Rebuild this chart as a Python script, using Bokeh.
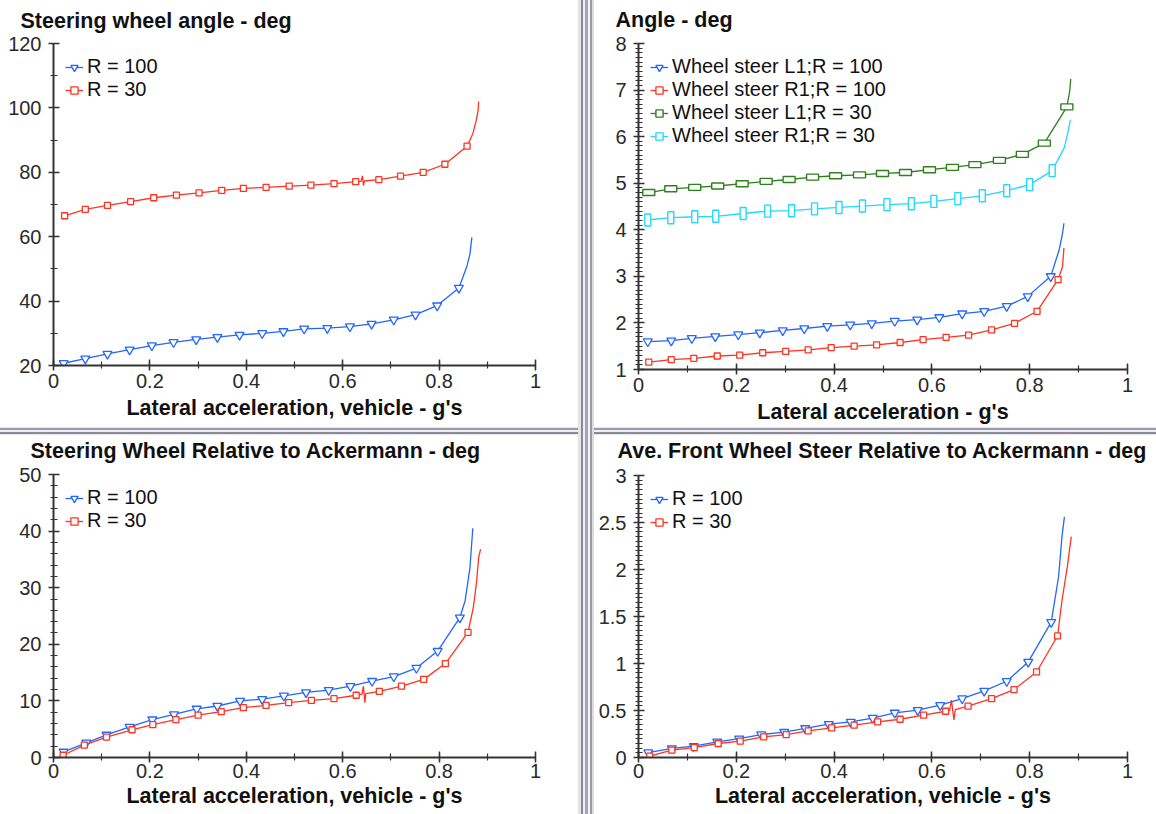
from bokeh.plotting import figure
from bokeh.layouts import row, column
from bokeh.models import (Div, FixedTicker, Legend, LegendItem, ColumnDataSource, Range1d,
                          Title)
from bokeh.embed import file_html
from bokeh.resources import INLINE
import numpy as np

# ---------------- data ----------------
x_ticks = [0, 0.2, 0.4, 0.6, 0.8, 1.0]
x_tick_labels = ["0", "0.2", "0.4", "0.6", "0.8", "1"]

# Panel 1: Steering wheel angle
p1_title = "Steering wheel angle - deg"
p1_xlabel = "Lateral acceleration, vehicle - g's"
p1_yticks = [20, 40, 60, 80, 100, 120]
p1_ytick_labels = ["20", "40", "60", "80", "100", "120"]
p1_r100_x = [0.021, 0.066, 0.112, 0.158, 0.204, 0.249, 0.296, 0.340, 0.386, 0.433, 0.477,
             0.520, 0.568, 0.615, 0.660, 0.706, 0.751, 0.796, 0.841]
p1_r100_y = [20.7, 22.1, 23.6, 24.9, 26.2, 27.2, 28.1, 28.8, 29.5, 30.0, 30.6,
             31.4, 31.6, 32.1, 32.9, 34.2, 35.8, 38.6, 44.1]
p1_r100_tail_x = [0.857, 0.864, 0.868]
p1_r100_tail_y = [50.5, 54.6, 59.8]
p1_r30_x = [0.023, 0.066, 0.112, 0.160, 0.208, 0.255, 0.302, 0.349, 0.394, 0.441, 0.489,
            0.534, 0.582, 0.627, 0.675, 0.720, 0.767, 0.812, 0.858]
p1_r30_y = [66.5, 68.5, 69.7, 70.9, 72.1, 72.9, 73.6, 74.4, 75.0, 75.3, 75.7,
            76.0, 76.5, 77.1, 77.7, 78.8, 80.0, 82.5, 88.1]
p1_r30_tail_x = [0.870, 0.877, 0.881, 0.882]
p1_r30_tail_y = [92.0, 96.1, 99.2, 102.0]
p1_r30_glitch_x = [0.638, 0.641, 0.643, 0.645]
p1_r30_glitch_y = [77.2, 78.9, 75.9, 77.3]

# Panel 2: Angle
p2_title = "Angle - deg"
p2_xlabel = "Lateral acceleration - g's"
p2_yticks = [1, 2, 3, 4, 5, 6, 7, 8]
p2_ytick_labels = ["1", "2", "3", "4", "5", "6", "7", "8"]
p2_l1r100_x = [0.019, 0.067, 0.109, 0.157, 0.204, 0.248, 0.295, 0.339, 0.386, 0.433, 0.477,
               0.524, 0.570, 0.615, 0.662, 0.707, 0.753, 0.796, 0.843]
p2_l1r100_y = [1.60, 1.62, 1.67, 1.71, 1.75, 1.79, 1.84, 1.88, 1.93, 1.96, 1.99,
               2.04, 2.07, 2.12, 2.20, 2.25, 2.36, 2.57, 3.00]
p2_l1r100_tail_x = [0.860, 0.867, 0.870]
p2_l1r100_tail_y = [3.56, 3.91, 4.14]
p2_r1r100_x = [0.021, 0.067, 0.113, 0.161, 0.207, 0.254, 0.301, 0.347, 0.394, 0.441, 0.487,
               0.535, 0.582, 0.629, 0.675, 0.722, 0.769, 0.815, 0.858]
p2_r1r100_y = [1.16, 1.21, 1.24, 1.29, 1.31, 1.36, 1.39, 1.42, 1.47, 1.50, 1.53,
               1.58, 1.64, 1.69, 1.74, 1.85, 1.99, 2.25, 2.93]
p2_r1r100_tail_x = [0.867, 0.870]
p2_r1r100_tail_y = [3.20, 3.61]
p2_l1r30_x = [0.021, 0.066, 0.115, 0.162, 0.212, 0.261, 0.308, 0.356, 0.403, 0.452, 0.499,
              0.546, 0.595, 0.642, 0.688, 0.738, 0.785, 0.830, 0.876]
p2_l1r30_y = [4.80, 4.88, 4.91, 4.94, 4.99, 5.04, 5.08, 5.13, 5.16, 5.18, 5.21,
              5.23, 5.29, 5.34, 5.40, 5.49, 5.62, 5.86, 6.64]
p2_l1r30_tail_x = [0.882, 0.884]
p2_l1r30_tail_y = [6.99, 7.24]
p2_r1r30_x = [0.019, 0.066, 0.115, 0.158, 0.214, 0.264, 0.313, 0.360, 0.410, 0.458,
              0.508, 0.558, 0.604, 0.653, 0.703, 0.753, 0.800, 0.846]
p2_r1r30_y = [4.21, 4.26, 4.28, 4.29, 4.35, 4.40, 4.41, 4.45, 4.48, 4.51,
              4.54, 4.56, 4.61, 4.67, 4.73, 4.84, 4.97, 5.27]
p2_r1r30_tail_x = [0.871, 0.879, 0.883]
p2_r1r30_tail_y = [5.77, 6.13, 6.36]

# Panel 3: Steering Wheel Relative to Ackermann
p3_title = "Steering Wheel Relative to Ackermann - deg"
p3_xlabel = "Lateral acceleration, vehicle - g's"
p3_yticks = [0, 10, 20, 30, 40, 50]
p3_ytick_labels = ["0", "10", "20", "30", "40", "50"]
p3_r100_x = [0.021, 0.068, 0.110, 0.158, 0.205, 0.250, 0.297, 0.340, 0.387, 0.433, 0.478,
             0.524, 0.571, 0.616, 0.661, 0.706, 0.753, 0.797, 0.843]
p3_r100_y = [1.0, 2.6, 4.0, 5.4, 6.7, 7.6, 8.6, 9.1, 10.0, 10.3, 10.9,
             11.5, 11.9, 12.6, 13.5, 14.3, 15.8, 18.8, 24.7]
p3_r100_tail_x = [0.854, 0.864, 0.867, 0.870]
p3_r100_tail_y = [27.7, 33.5, 37.1, 40.5]
p3_r30_x = [0.020, 0.064, 0.110, 0.163, 0.206, 0.254, 0.300, 0.348, 0.394, 0.441, 0.488,
            0.535, 0.582, 0.628, 0.676, 0.722, 0.768, 0.813, 0.860]
p3_r30_y = [0.4, 2.2, 3.6, 4.9, 5.8, 6.7, 7.5, 8.1, 8.8, 9.2, 9.7,
            10.1, 10.4, 11.0, 11.7, 12.6, 13.8, 16.6, 22.1]
p3_r30_tail_x = [0.871, 0.878, 0.882, 0.886]
p3_r30_tail_y = [26.5, 31.2, 35.3, 36.8]
p3_r30_glitch_x = [0.640, 0.643, 0.646, 0.648]
p3_r30_glitch_y = [11.2, 12.6, 9.7, 11.3]

# Panel 4: Ave. Front Wheel Steer Relative to Ackermann
p4_title = "Ave. Front Wheel Steer Relative to Ackermann - deg"
p4_xlabel = "Lateral acceleration, vehicle - g's"
p4_yticks = [0, 0.5, 1, 1.5, 2, 2.5, 3]
p4_ytick_labels = ["0", "0.5", "1", "1.5", "2", "2.5", "3"]
p4_r100_x = [0.020, 0.068, 0.113, 0.161, 0.206, 0.251, 0.298, 0.341, 0.389, 0.434, 0.479,
             0.524, 0.571, 0.617, 0.662, 0.707, 0.753, 0.797, 0.844]
p4_r100_y = [0.053, 0.096, 0.12, 0.167, 0.20, 0.244, 0.27, 0.31, 0.354, 0.379, 0.42,
             0.475, 0.503, 0.556, 0.627, 0.708, 0.811, 1.017, 1.44]
p4_r100_tail_x = [0.859, 0.866, 0.871]
p4_r100_tail_y = [1.92, 2.35, 2.56]
p4_r30_x = [0.023, 0.068, 0.114, 0.163, 0.208, 0.256, 0.302, 0.347, 0.395, 0.441, 0.489,
            0.535, 0.583, 0.628, 0.674, 0.722, 0.768, 0.814, 0.857]
p4_r30_y = [0.014, 0.078, 0.106, 0.149, 0.174, 0.22, 0.244, 0.283, 0.315, 0.344, 0.379,
            0.407, 0.45, 0.492, 0.546, 0.627, 0.723, 0.91, 1.293]
p4_r30_tail_x = [0.866, 0.877, 0.885]
p4_r30_tail_y = [1.67, 2.03, 2.35]
p4_r30_glitch_x = [0.636, 0.640, 0.645, 0.648]
p4_r30_glitch_y = [0.50, 0.61, 0.40, 0.51]

legend_r100 = "R = 100"
legend_r30 = "R = 30"
p2_legend = ["Wheel steer L1;R = 100", "Wheel steer R1;R = 100",
             "Wheel steer L1;R = 30", "Wheel steer R1;R = 30"]

# ---------------- style ----------------
FONT = "Liberation Sans"
BLUE = "#2266ff"
RED = "#ff3322"
GREEN = "#2f7f1f"
CYAN = "#22d8ff"
AX = "#333333"


def make_fig(w, h, yr, left, right, top, bottom, title, title_offset, title_gap,
             xlabel, yticks, ylabels, yminor_step, xstand, lstand):
    p = figure(width=w, height=h, x_range=Range1d(0, 1), y_range=Range1d(*yr),
               output_backend="svg", toolbar_location=None,
               min_border_left=left, min_border_right=right,
               min_border_top=top, min_border_bottom=bottom)
    p.outline_line_color = None
    p.grid.visible = False
    p.background_fill_color = "white"
    p.border_fill_color = "white"
    p.title.text = title
    p.title.align = "left"
    p.title.vertical_align = "bottom"
    p.title.offset = title_offset
    p.title.standoff = 0
    p.title.text_font = FONT
    p.title.text_font_size = "21.5px"
    p.title.text_font_style = "bold"
    p.title.text_color = "#111111"
    # blank spacer panel between the frame and the title
    p.add_layout(Title(text=" ", text_font_size="1px", standoff=title_gap), "above")

    xminor = list(np.round(np.arange(0, 1.0001, 0.1), 4))
    p.xaxis.ticker = FixedTicker(ticks=x_ticks, minor_ticks=xminor)
    p.xaxis.major_label_overrides = dict(zip(x_ticks, x_tick_labels))
    y0, y1 = yr
    yminor = list(np.round(np.arange(y0, y1 + yminor_step / 2, yminor_step), 4))
    p.yaxis.ticker = FixedTicker(ticks=yticks, minor_ticks=yminor)
    p.yaxis.major_label_overrides = dict(zip(yticks, ylabels))
    p.xaxis.axis_label = xlabel
    p.xaxis.axis_label_text_font = FONT
    p.xaxis.axis_label_text_font_size = "21.5px"
    p.xaxis.axis_label_text_font_style = "bold"
    p.xaxis.axis_label_text_color = "#111111"
    p.xaxis.axis_label_standoff = lstand
    for ax in (p.xaxis, p.yaxis):
        ax.axis_line_color = AX
        ax.axis_line_width = 2
        ax.major_tick_line_color = AX
        ax.minor_tick_line_color = AX
        ax.major_tick_line_width = 1.5
        ax.minor_tick_line_width = 1.2
        ax.major_tick_in = 6
        ax.major_tick_out = 5
        ax.minor_tick_in = 4
        ax.minor_tick_out = 3
        ax.major_label_text_font = FONT
        ax.major_label_text_font_size = "20px"
        ax.major_label_text_color = "#2a2a2a"
    p.xaxis.major_label_standoff = xstand
    p.yaxis.major_label_standoff = 7
    return p


def add_series(p, mx, my, tx, ty, color, marker=None, size=8, rect=None, gx=(), gy=()):
    pts = sorted(zip(list(mx) + list(tx) + list(gx), list(my) + list(ty) + list(gy)),
                 key=lambda t: t[0])
    lx = [t[0] for t in pts]
    ly = [t[1] for t in pts]
    lr = p.line(lx, ly, line_color=color, line_width=1.3)
    src = ColumnDataSource(dict(x=mx, y=my))
    if rect is None:
        mr = p.scatter("x", "y", source=src, marker=marker, size=size,
                       fill_color="white", line_color=color, line_width=1.3)
        return [lr, mr]
    rw, rh = rect
    p.rect("x", "y", source=src, width=rw, height=rh, width_units="screen",
           height_units="screen", fill_color="white", line_color=color, line_width=1.4)
    # hidden marker renderer, used only for the legend swatch
    lg = p.scatter("x", "y", source=src, marker="square", size=7, fill_color="white",
                   line_color=color, line_width=1.4, visible=False)
    return [lr, lg]


def add_legend(p, items):
    leg = Legend(items=[LegendItem(label=l, renderers=r) for l, r in items],
                 location="top_left")
    leg.border_line_color = None
    leg.background_fill_alpha = 0
    leg.label_text_font = FONT
    leg.label_text_font_size = "20px"
    leg.label_text_color = "#111111"
    leg.glyph_width = 18
    leg.glyph_height = 20
    leg.label_height = 20
    leg.spacing = 0
    leg.padding = 10
    leg.margin = 12
    leg.label_standoff = 4
    p.add_layout(leg)


# Panel 1
p1 = make_fig(578, 427, (20, 120), 53, 42, 43, 62, p1_title, -33, 8, p1_xlabel,
              p1_yticks, p1_ytick_labels, 10, 3, 5)
a = add_series(p1, p1_r100_x, p1_r100_y, p1_r100_tail_x, p1_r100_tail_y, BLUE,
               "inverted_triangle", 9)
b = add_series(p1, p1_r30_x, p1_r30_y, p1_r30_tail_x, p1_r30_tail_y, RED, "square", 6,
               gx=p1_r30_glitch_x, gy=p1_r30_glitch_y)
add_legend(p1, [(legend_r100, a), (legend_r30, b)])

# Panel 2
p2 = make_fig(562, 427, (1, 8), 40, 29, 43, 58, p2_title, -23, 9, p2_xlabel,
              p2_yticks, p2_ytick_labels, 0.1, 3, 5)
a = add_series(p2, p2_l1r100_x, p2_l1r100_y, p2_l1r100_tail_x, p2_l1r100_tail_y, BLUE,
               "inverted_triangle", 9)
b = add_series(p2, p2_r1r100_x, p2_r1r100_y, p2_r1r100_tail_x, p2_r1r100_tail_y, RED,
               "square", 6)
c = add_series(p2, p2_l1r30_x, p2_l1r30_y, p2_l1r30_tail_x, p2_l1r30_tail_y, GREEN,
               rect=(12, 6))
d = add_series(p2, p2_r1r30_x, p2_r1r30_y, p2_r1r30_tail_x, p2_r1r30_tail_y, CYAN,
               rect=(6, 12))
add_legend(p2, list(zip(p2_legend, [a, b, c, d])))

# Panel 3
p3 = make_fig(578, 379, (0, 50), 43, 43, 39, 57, p3_title, -23, 9, p3_xlabel,
              p3_yticks, p3_ytick_labels, 2, 1, 3)
a = add_series(p3, p3_r100_x, p3_r100_y, p3_r100_tail_x, p3_r100_tail_y, BLUE,
               "inverted_triangle", 9)
b = add_series(p3, p3_r30_x, p3_r30_y, p3_r30_tail_x, p3_r30_tail_y, RED, "square", 6,
               gx=p3_r30_glitch_x, gy=p3_r30_glitch_y)
add_legend(p3, [(legend_r100, a), (legend_r30, b)])

# Panel 4
p4 = make_fig(562, 379, (0, 3), 44, 29, 40, 57, p4_title, -21, 10, p4_xlabel,
              p4_yticks, p4_ytick_labels, 0.05, 1, 3)
a = add_series(p4, p4_r100_x, p4_r100_y, p4_r100_tail_x, p4_r100_tail_y, BLUE,
               "inverted_triangle", 9)
b = add_series(p4, p4_r30_x, p4_r30_y, p4_r30_tail_x, p4_r30_tail_y, RED, "square", 6,
               gx=p4_r30_glitch_x, gy=p4_r30_glitch_y)
add_legend(p4, [(legend_r100, a), (legend_r30, b)])

# separators
vgrad = ("linear-gradient(to right, #e4e4e4 0px, #e4e4e4 3px, #8a8a9a 3px, #8a8a9a 5px, "
         "#eeeef4 5px, #eeeef4 7px, #a4a4b4 7px, #a4a4b4 10px, #f4f4f4 10px, #f4f4f4 12px, "
         "#9a9aaa 12px, #9a9aaa 14px, #dcdcdc 14px, #dcdcdc 16px)")
hgrad = ("linear-gradient(to bottom, #e8e8e8 0px, #e8e8e8 1px, #9a9aaa 1px, #9a9aaa 3px, "
         "#eeeef4 3px, #eeeef4 5px, #8a8a9a 5px, #8a8a9a 7px, #e4e4e4 7px, #e4e4e4 8px)")


def sep(w, h, grad):
    return Div(text="", width=w, height=h, margin=0,
               styles={"background": grad})


layout = row(column(p1, sep(578, 8, hgrad), p3, spacing=0),
             sep(16, 814, vgrad),
             column(p2, sep(562, 8, hgrad), p4, spacing=0), spacing=0)

open("out.html", "w").write(file_html(layout, INLINE))
